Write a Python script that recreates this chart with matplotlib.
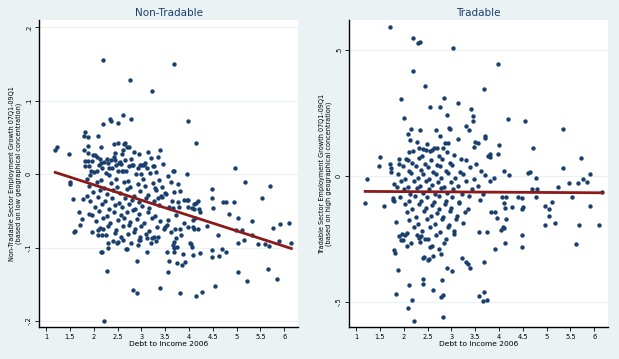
import numpy as np
import matplotlib
matplotlib.use("Agg")
import matplotlib.pyplot as plt

# ---- data ----
# Non-tradable panel: (debt to income, employment growth)
nontrad_pts = [
    # upper outliers
    (2.20, 0.156), (3.69, 0.150), (2.76, 0.128), (3.23, 0.113), (2.62, 0.080),
    (2.34, 0.075), (2.36, 0.072), (2.78, 0.075), (2.20, 0.068), (2.51, 0.070),
    (3.98, 0.072), (4.15, 0.042), (4.97, 0.008), (1.19, 0.033), (1.23, 0.037),
    (1.47, 0.027), (1.81, 0.058), (1.80, 0.052), (1.88, 0.051), (2.08, 0.052),
    (1.87, 0.039), (1.79, 0.033), (1.88, 0.029), (2.15, 0.037), (1.99, 0.026),
    (2.51, 0.042), (2.63, 0.041), (2.74, 0.037), (2.85, 0.030), (3.14, 0.030),
    (3.40, 0.033), (3.35, 0.023), (3.67, 0.005), (3.96, 0.001), (3.25, 0.011),
    (2.43, 0.041), (2.62, 0.033), (2.45, 0.029), (2.60, 0.027), (2.70, 0.037),
    (2.66, 0.042), (2.66, 0.020), (2.74, 0.011), (2.83, 0.012), (2.97, 0.012),
    (3.02, 0.012), (3.06, 0.012), (2.93, 0.009), (3.27, 0.011), (3.69, 0.005),
    (1.82, 0.018), (1.88, 0.018), (1.97, 0.018), (2.07, 0.024), (2.13, 0.021),
    (2.16, 0.015), (2.28, 0.021), (2.37, 0.020), (2.30, 0.015), (2.32, 0.008),
    (2.45, 0.019), (2.55, 0.016), (2.47, 0.012), (2.51, 0.005), (2.62, 0.005),
    (1.82, 0.011), (1.90, 0.011), (2.07, 0.005), (2.18, 0.008), (1.92, -0.001),
    # left edge / low outliers
    (1.50, -0.011), (1.51, -0.013), (1.56, -0.034), (1.59, -0.078), (1.61, -0.077),
    (1.70, -0.052), (1.72, -0.069), (1.78, -0.034), (1.86, -0.030), (1.76, -0.061),
    (1.90, -0.054), (1.97, -0.079), (2.09, -0.083), (2.18, -0.083), (2.09, -0.076),
    (2.20, -0.075), (2.18, -0.106), (2.16, -0.106), (2.30, -0.093), (2.30, -0.101),
    (2.51, -0.092), (2.49, -0.094), (2.28, -0.132), (2.22, -0.200), (2.68, -0.102),
    (2.70, -0.102), (2.83, -0.158), (2.91, -0.162), (2.90, -0.118), (3.39, -0.155),
    (3.82, -0.162), (4.15, -0.166), (4.28, -0.160), (4.55, -0.152), (3.58, -0.118),
    (3.75, -0.121), (3.86, -0.123), (3.92, -0.119), (3.56, -0.133), (3.12, -0.106),
    (3.54, -0.106), (3.68, -0.106), (3.69, -0.100), (4.02, -0.094), (4.05, -0.095),
    (4.07, -0.099), (4.24, -0.107), (4.09, -0.110), (3.88, -0.108), (2.93, -0.097),
    (2.97, -0.090), (3.67, -0.097), (3.75, -0.099),
    # right side
    (4.49, -0.020), (4.49, -0.033), (4.51, -0.046), (4.72, -0.038), (4.78, -0.038),
    (4.95, -0.038), (5.18, -0.011), (5.70, -0.016), (5.54, -0.032), (4.84, -0.054),
    (5.03, -0.060), (5.33, -0.063), (4.99, -0.076), (5.12, -0.076), (4.61, -0.083),
    (5.33, -0.083), (5.77, -0.073), (5.91, -0.068), (6.11, -0.066), (5.16, -0.089),
    (5.04, -0.093), (5.45, -0.095), (5.60, -0.095), (5.68, -0.098), (5.90, -0.091),
    (6.15, -0.094), (4.49, -0.103), (4.49, -0.113), (4.63, -0.112), (4.69, -0.102),
    (4.78, -0.106), (5.03, -0.133), (5.22, -0.146), (5.66, -0.129), (5.85, -0.143),
    (4.38, -0.070), (4.23, -0.052), (4.11, -0.041), (4.19, -0.036), (3.96, -0.035),
    (4.06, -0.046), (4.13, -0.060), (4.09, -0.072), (3.78, -0.013), (3.82, -0.023),
    (3.69, -0.024), (3.90, -0.035), (3.98, -0.035), (4.15, -0.039), (4.11, -0.047),
    (4.21, -0.047), (3.97, -0.045), (3.78, -0.038), (3.79, -0.044), (3.50, -0.026),
    (3.65, -0.037), (3.35, -0.032), (3.41, -0.029), (3.29, -0.019), (3.67, -0.046),
    (3.73, -0.056), (3.56, -0.062), (3.90, -0.067), (4.09, -0.062), (4.11, -0.074),
    (4.19, -0.074), (3.97, -0.072), (3.82, -0.074), (3.71, -0.075), (3.50, -0.072),
    (3.48, -0.074), (3.54, -0.069), (3.63, -0.079), (3.73, -0.087), (3.69, -0.092),
    (3.84, -0.083), (3.35, -0.086), (3.31, -0.091), (3.23, -0.087), (3.12, -0.087),
    # dense core
    (2.03, 0.026), (2.21, 0.017), (2.42, 0.023), (2.57, 0.014), (2.78, 0.021),
    (2.95, 0.027), (3.08, 0.015), (3.21, 0.022),
    (1.95, 0.004), (2.12, 0.013), (2.26, 0.002), (2.38, 0.009), (2.52, 0.015),
    (2.68, 0.005), (2.81, 0.012), (2.99, 0.001), (3.12, 0.008), (3.31, 0.003),
    (3.46, 0.014),
    (1.86, -0.006), (2.01, 0.003), (2.15, -0.008), (2.33, -0.001), (2.46, -0.006),
    (2.59, 0.004), (2.71, -0.009), (2.88, 0.000), (3.03, -0.007), (3.18, 0.002),
    (3.37, -0.008), (3.55, -0.003),
    (1.91, -0.016), (2.06, -0.011), (2.22, -0.019), (2.36, -0.012), (2.49, -0.017),
    (2.63, -0.010), (2.76, -0.018), (2.92, -0.013), (3.07, -0.016), (3.24, -0.012),
    (3.43, -0.018), (3.62, -0.011),
    (1.98, -0.024), (2.13, -0.021), (2.28, -0.027), (2.41, -0.022), (2.55, -0.026),
    (2.69, -0.020), (2.84, -0.029), (2.97, -0.023), (3.14, -0.028), (3.30, -0.021),
    (3.52, -0.027),
    (1.93, -0.036), (2.09, -0.031), (2.24, -0.037), (2.38, -0.033), (2.52, -0.039),
    (2.66, -0.032), (2.80, -0.035), (2.94, -0.038), (3.10, -0.033), (3.27, -0.036),
    (3.44, -0.031),
    (2.02, -0.044), (2.17, -0.041), (2.31, -0.047), (2.45, -0.042), (2.60, -0.045),
    (2.73, -0.041), (2.87, -0.048), (3.01, -0.043), (3.17, -0.046), (3.36, -0.042),
    (3.58, -0.045),
    (1.96, -0.055), (2.11, -0.050), (2.27, -0.057), (2.43, -0.051), (2.57, -0.056),
    (2.70, -0.052), (2.83, -0.049), (2.96, -0.054), (3.13, -0.051), (3.29, -0.057),
    (2.05, -0.064), (2.20, -0.060), (2.35, -0.066), (2.50, -0.062), (2.64, -0.059),
    (2.77, -0.065), (2.90, -0.061), (3.05, -0.067), (3.22, -0.060), (3.40, -0.063),
    (2.14, -0.073), (2.30, -0.070), (2.47, -0.076), (2.61, -0.071), (2.74, -0.069),
    (2.86, -0.075), (2.99, -0.071), (3.16, -0.077), (3.33, -0.072),
    (2.26, -0.083), (2.44, -0.080), (2.58, -0.086), (2.72, -0.082), (2.85, -0.079),
    (2.98, -0.085), (3.09, -0.081), (3.26, -0.086),
    (2.40, -0.091), (2.62, -0.089), (2.79, -0.094), (2.95, -0.090), (3.20, -0.093),
]

# Tradable panel
trad_pts = [
    # upper outliers
    (1.71, 0.594), (2.20, 0.550), (2.30, 0.530), (2.34, 0.534), (3.04, 0.510),
    (3.98, 0.446), (2.20, 0.418), (2.45, 0.358), (3.69, 0.347), (1.95, 0.307),
    (2.85, 0.311), (2.55, 0.275), (2.76, 0.275), (3.14, 0.290), (3.42, 0.267),
    (3.46, 0.239), (3.46, 0.219), (2.01, 0.231), (2.91, 0.243), (4.19, 0.227),
    (4.55, 0.219), (3.31, 0.199), (3.37, 0.183), (2.95, 0.191), (2.97, 0.187),
    (2.68, 0.183), (2.16, 0.187), (2.34, 0.183), (2.09, 0.167), (2.76, 0.159),
    (3.71, 0.159), (3.71, 0.152), (5.35, 0.187), (3.14, 0.147), (2.13, 0.143),
    (2.28, 0.135), (3.50, 0.135), (3.56, 0.131), (2.93, 0.131), (4.00, 0.124),
    (3.48, 0.116), (4.72, 0.112), (2.32, 0.112), (2.41, 0.108), (2.47, 0.104),
    (2.55, 0.100), (2.11, 0.096), (2.64, 0.112), (2.83, 0.112), (1.50, 0.076),
    (3.31, 0.064), (3.82, 0.088), (3.77, 0.080), (3.82, 0.076), (3.98, 0.088),
    (5.73, 0.072), (1.48, 0.040), (1.71, 0.048), (1.90, 0.068), (1.90, 0.048),
    (2.09, 0.064), (1.74, 0.032), (1.74, 0.016), (5.35, 0.032), (5.92, 0.008),
    (4.61, 0.012), (4.66, 0.016), (4.11, 0.020), (1.23, -0.012), (4.21, 0.004),
    (4.78, -0.008), (5.77, -0.012),
    # lower part
    (1.19, -0.108), (1.59, -0.120), (1.78, -0.088), (1.80, -0.100), (1.80, -0.032),
    (1.84, -0.183), (1.90, -0.239), (1.99, -0.255), (1.80, -0.295), (1.82, -0.307),
    (1.88, -0.375), (1.84, -0.470), (2.11, -0.434), (2.18, -0.494), (2.09, -0.526),
    (2.22, -0.578), (2.41, -0.410), (2.41, -0.430), (2.62, -0.454), (2.83, -0.562),
    (2.78, -0.482), (2.82, -0.474), (2.81, -0.414), (2.91, -0.367), (3.02, -0.378),
    (2.41, -0.327), (2.51, -0.335), (2.62, -0.319), (2.79, -0.311), (3.23, -0.327),
    (3.31, -0.343), (3.35, -0.351), (3.40, -0.367), (3.69, -0.343), (3.58, -0.478),
    (3.67, -0.498), (3.75, -0.494), (3.69, -0.462), (3.92, -0.291), (4.49, -0.283),
    (4.49, -0.235), (4.13, -0.267), (4.05, -0.215), (4.09, -0.203), (4.11, -0.207),
    (5.62, -0.271), (5.68, -0.195), (6.10, -0.195), (5.92, -0.120), (6.17, -0.064),
    (5.54, -0.084), (4.97, -0.120), (5.05, -0.131), (5.05, -0.159), (4.97, -0.195),
    (5.18, -0.187), (5.12, -0.104), (5.24, -0.044), (5.47, -0.028), (5.66, -0.028),
    (5.85, -0.024), (4.78, -0.084), (4.70, -0.052), (4.80, -0.052), (4.49, -0.088),
    (4.51, -0.124), (4.49, -0.131), (4.40, -0.084), (4.28, -0.124), (4.15, -0.084),
    (4.07, -0.084), (4.11, -0.108), (4.13, -0.127), (4.15, -0.171), (3.84, -0.143),
    (3.92, -0.143), (3.75, -0.223), (3.58, -0.223), (3.96, -0.167), (1.86, -0.044),
    (1.78, -0.096), (1.97, -0.231), (2.03, -0.235), (2.07, -0.227), (1.95, -0.255),
    (2.43, -0.323), (2.53, -0.331), (2.16, -0.267), (2.07, -0.279), (2.32, -0.247),
    (2.37, -0.239), (2.51, -0.251), (2.55, -0.283), (2.74, -0.291),
    # dense core
    (2.48, 0.128), (2.70, 0.112), (2.86, 0.131),
    (2.20, 0.099), (2.38, 0.081), (2.60, 0.102), (2.74, 0.078), (2.90, 0.095),
    (3.05, 0.083),
    (2.05, 0.066), (2.18, 0.052), (2.31, 0.071), (2.45, 0.049), (2.58, 0.064),
    (2.69, 0.045), (2.81, 0.069), (2.97, 0.053), (3.20, 0.067), (3.52, 0.048),
    (1.98, 0.038), (2.12, 0.019), (2.25, 0.041), (2.37, 0.022), (2.50, 0.036),
    (2.62, 0.015), (2.76, 0.040), (2.88, 0.020), (3.02, 0.042), (3.18, 0.017),
    (3.39, 0.037), (3.63, 0.021),
    (1.88, 0.009), (2.03, -0.011), (2.16, 0.011), (2.29, -0.008), (2.41, 0.007),
    (2.54, -0.013), (2.67, 0.010), (2.79, -0.009), (2.93, 0.012), (3.08, -0.006),
    (3.25, 0.008), (3.47, -0.012), (3.70, 0.006), (3.90, -0.009),
    (1.94, -0.021), (2.08, -0.042), (2.22, -0.019), (2.35, -0.040), (2.47, -0.018),
    (2.60, -0.037), (2.72, -0.022), (2.85, -0.043), (2.99, -0.024), (3.13, -0.039),
    (3.31, -0.020), (3.55, -0.041), (3.82, -0.019),
    (2.00, -0.051), (2.14, -0.071), (2.27, -0.049), (2.40, -0.068), (2.53, -0.052),
    (2.65, -0.073), (2.78, -0.048), (2.91, -0.069), (3.04, -0.050), (3.22, -0.072),
    (3.43, -0.053), (3.66, -0.070),
    (1.92, -0.084), (2.10, -0.101), (2.24, -0.081), (2.36, -0.098), (2.49, -0.085),
    (2.63, -0.103), (2.75, -0.079), (2.88, -0.099), (3.02, -0.083), (3.17, -0.102),
    (3.37, -0.080), (3.60, -0.097),
    (2.03, -0.113), (2.18, -0.131), (2.32, -0.110), (2.46, -0.128), (2.59, -0.114),
    (2.73, -0.133), (2.86, -0.112), (3.00, -0.129), (3.15, -0.109), (3.34, -0.130),
    (2.07, -0.143), (2.26, -0.161), (2.43, -0.140), (2.57, -0.158), (2.70, -0.145),
    (2.83, -0.163), (2.97, -0.139), (3.12, -0.160), (3.28, -0.144),
    (2.12, -0.174), (2.30, -0.191), (2.48, -0.171), (2.66, -0.189), (2.80, -0.169),
    (2.95, -0.193), (3.10, -0.172), (3.25, -0.188),
    (2.21, -0.203), (2.39, -0.219), (2.56, -0.201), (2.77, -0.221), (2.92, -0.204),
    (3.06, -0.217),
    (2.28, -0.234), (2.45, -0.251), (2.68, -0.233), (2.88, -0.249), (3.05, -0.229),
    (2.34, -0.263), (2.60, -0.279), (2.85, -0.266),
]

x_ticks = [1, 1.5, 2, 2.5, 3, 3.5, 4, 4.5, 5, 5.5, 6]
x_ticklabels = ["1", "1.5", "2", "2.5", "3", "3.5", "4", "4.5", "5", "5.5", "6"]
nt_yticks = [-0.2, -0.1, 0, 0.1, 0.2]
nt_yticklabels = ["-.2", "-.1", "0", ".1", ".2"]
tr_yticks = [-0.5, 0, 0.5]
tr_yticklabels = ["-.5", "0", ".5"]

nt_x, nt_y = np.array(nontrad_pts).T
tr_x, tr_y = np.array(trad_pts).T

bg = "#eaf2f3"
navy = "#1a3f6f"
fitcol = "#8b1a1a"

fig = plt.figure(figsize=(6.19, 3.59), dpi=100, facecolor=bg)

panels = [
    ([39 / 619, 32 / 359, 259 / 619, 307 / 359], nt_x, nt_y, "Non-Tradable",
     "Non-Tradable Sector Employment Growth 07Q1-09Q1\n(based on low geographical concentration)",
     (-0.208, 0.21), nt_yticks, nt_yticklabels),
    ([349 / 619, 32 / 359, 259 / 619, 307 / 359], tr_x, tr_y, "Tradable",
     "Tradable Sector Employment Growth 07Q1-09Q1\n(based on high geographical concentration)",
     (-0.60, 0.62), tr_yticks, tr_yticklabels),
]

for rect, xs, ys, title, ylab, ylim, yt, ytl in panels:
    ax = fig.add_axes(rect)
    ax.set_facecolor("white")
    for yv in yt:
        ax.axhline(yv, color=bg, linewidth=0.9, zorder=0)
    ax.scatter(xs, ys, s=10, color=navy, linewidths=0, zorder=2)

    # linear fit, like Stata's lfit
    b, a = np.polyfit(xs, ys, 1)
    fx = np.array([xs.min(), xs.max()])
    ax.plot(fx, a + b * fx, color=fitcol, linewidth=2.0, zorder=3)

    ax.set_xlim(0.85, 6.29)
    ax.set_ylim(*ylim)
    ax.set_xticks(x_ticks)
    ax.set_xticklabels(x_ticklabels, fontsize=4.8)
    ax.set_yticks(yt)
    ax.set_yticklabels(ytl, fontsize=4.8, rotation=90, va="center")
    ax.tick_params(length=3, width=0.6, pad=2)
    for side in ["top", "right"]:
        ax.spines[side].set_visible(False)
    ax.spines["left"].set_linewidth(1.0)
    ax.spines["bottom"].set_linewidth(1.0)

    ax.set_title(title, fontsize=7.5, color=navy, pad=3)
    ax.set_xlabel("Debt to Income 2006", fontsize=5.4, labelpad=1)
    ax.set_ylabel(ylab, fontsize=4.7, labelpad=3, linespacing=1.05)

fig.savefig("out.png", dpi=100, facecolor=bg)
